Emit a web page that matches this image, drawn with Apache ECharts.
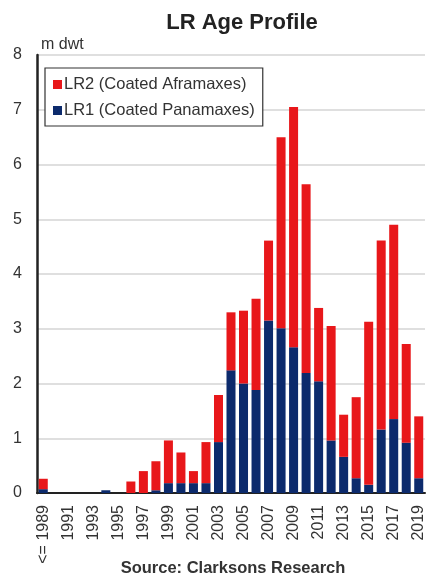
<!DOCTYPE html>
<html>
<head>
<meta charset="utf-8">
<script src="https://cdn.jsdelivr.net/npm/echarts@6/dist/echarts.min.js"></script>
<style>
  html, body { margin: 0; padding: 0; background: #ffffff; }
  #chart { width: 427px; height: 579px; }
</style>
</head>
<body>
<div id="chart"></div>
<script>
// Build years: first bucket collects everything up to 1989
const categories = ['<= 1989'];
for (let y = 1990; y <= 2019; y++) categories.push(String(y));

// LR1 (Coated Panamaxes), m dwt
const lr1 = [0.07, 0, 0, 0, 0, 0.05, 0, 0, 0, 0.05, 0.18, 0.18, 0.18, 0.18, 0.93,
  2.24, 2.00, 1.88, 3.15, 3.01, 2.66, 2.19, 2.04, 0.96, 0.66, 0.27, 0.15,
  1.16, 1.35, 0.92, 0.27];

// Total fleet (LR1 + LR2), m dwt
const totals = [0.26, 0, 0, 0, 0, 0.05, 0, 0.21, 0.40, 0.58, 0.96, 0.74, 0.40, 0.93,
  1.79, 3.30, 3.33, 3.55, 4.61, 6.50, 7.05, 5.64, 3.38, 3.05, 1.43, 1.75,
  3.13, 4.61, 4.90, 2.72, 1.40];

// LR2 (Coated Aframaxes) = total minus LR1
const lr2 = totals.map((t, i) => Math.max(0, +(t - lr1[i]).toFixed(2)));

const yTicks = [0, 1, 2, 3, 4, 5, 6, 7, 8];

const RED = '#e8171a';
const NAVY = '#0c2a6c';
const FONT = '"Liberation Sans", Arial, sans-serif';

const chart = echarts.init(document.getElementById('chart'));
chart.setOption({
  animation: false,
  backgroundColor: '#ffffff',
  title: [
    {
      text: 'LR Age Profile',
      left: 237,
      top: 7,
      textAlign: 'center',
      textStyle: { fontFamily: FONT, fontWeight: 'bold', fontSize: 22, color: '#222' }
    },
    {
      text: 'Source: Clarksons Research',
      left: 228,
      top: 555,
      textAlign: 'center',
      textStyle: { fontFamily: FONT, fontWeight: 'bold', fontSize: 16.5, color: '#333' }
    }
  ],
  legend: {
    data: ['LR2 (Coated Aframaxes)', 'LR1 (Coated Panamaxes)'],
    orient: 'vertical',
    left: 45,
    top: 68,
    padding: [8, 8, 7, 8],
    itemGap: 9,
    itemWidth: 9,
    itemHeight: 9,
    icon: 'rect',
    borderColor: '#333',
    borderWidth: 1.2,
    backgroundColor: '#fff',
    textStyle: { fontFamily: FONT, fontSize: 16.5, color: '#333', padding: [0, 0, 0, -3] }
  },
  grid: { left: 37, right: 2, top: 55, bottom: 86, containLabel: false },
  xAxis: {
    type: 'category',
    data: categories,
    axisLine: { lineStyle: { color: '#222', width: 2 } },
    axisTick: { show: false },
    axisLabel: {
      interval: 1,
      rotate: 90,
      fontFamily: FONT,
      fontSize: 16,
      color: '#333',
      margin: 12
    }
  },
  yAxis: {
    type: 'value',
    min: 0,
    max: 8,
    interval: 1,
    name: 'm dwt',
    nameLocation: 'end',
    nameGap: 2,
    nameTextStyle: { fontFamily: FONT, fontSize: 16, color: '#333', align: 'left', padding: [0, 0, 0, 4] },
    axisLine: { show: true, lineStyle: { color: '#222', width: 2.5 } },
    axisTick: { show: false },
    axisLabel: {
      fontFamily: FONT,
      fontSize: 16,
      color: '#333',
      margin: 15,
      formatter: v => yTicks.includes(v) ? String(v) : ''
    },
    splitLine: { show: true, lineStyle: { color: '#d4d4d4', width: 1.5 } }
  },
  series: [
    {
      name: 'LR1 (Coated Panamaxes)',
      type: 'bar',
      stack: 'fleet',
      data: lr1,
      barCategoryGap: '28%',
      itemStyle: { color: NAVY }
    },
    {
      name: 'LR2 (Coated Aframaxes)',
      type: 'bar',
      stack: 'fleet',
      data: lr2,
      itemStyle: { color: RED }
    }
  ]
});
</script>
</body>
</html>
